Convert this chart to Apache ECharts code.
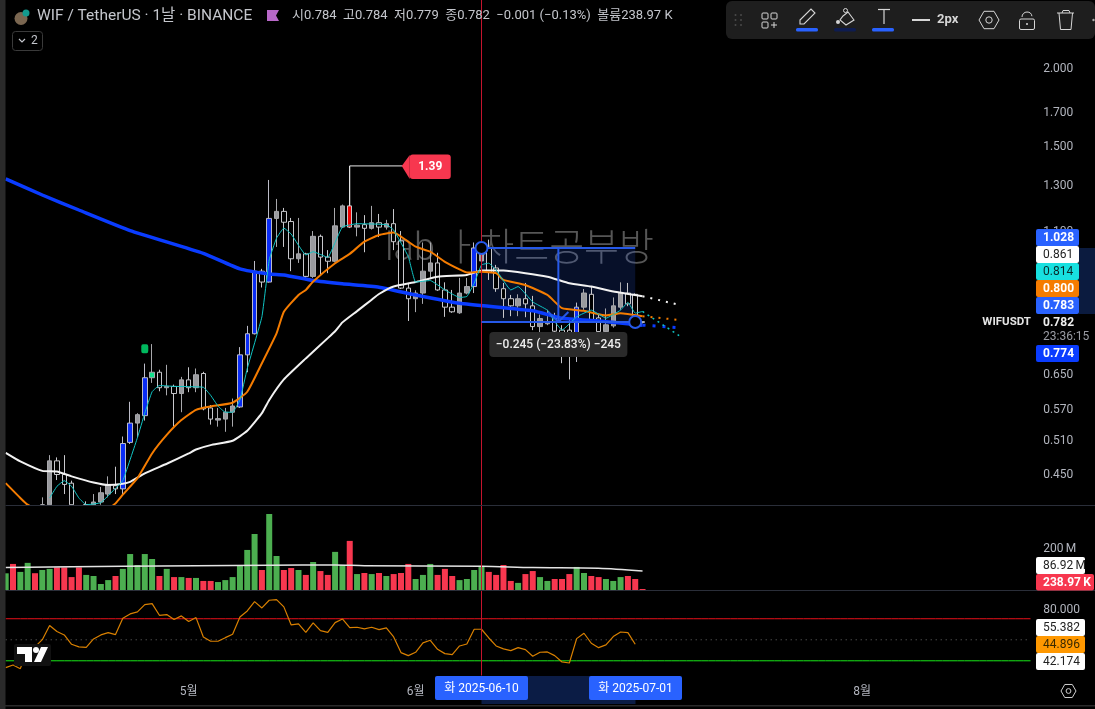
<!DOCTYPE html>
<html><head><meta charset="utf-8">
<style>html,body{margin:0;padding:0;background:#000}#c{width:1095px;height:709px}</style>
<script src="https://cdn.jsdelivr.net/npm/echarts@6/dist/echarts.min.js"></script>
</head><body><div id="c"></div>
<script>
const FONT = "Roboto,'Noto Sans CJK KR',sans-serif";
const firstDay = '2025-04-06';
const dayCount = 141;
const opens  = [.365,.37,.365,.37,.375,.4,.4,.47,.447,.433,.39,.4,.4,.404,.416,.429,.424,.503,.54,.555,.638,.651,.615,.618,.602,.633,.615,.648,.571,.546,.548,.562,.573,.694,.75,.944,.907,1.146,1.176,1.133,.988,1.006,.926,1.073,.994,.979,1.11,1.2,1.11,1.12,1.105,1.128,1.11,1.124,1.055,.887,.853,.871,.944,.973,.881,.827,.81,.871,.892,.98,1.028,.955,.885,.853,.831,.853,.831,.77,.778,.795,.76,.76,.719,.827,.867,.795,.756,.772,.827,.871,.867,.784];
const closes = [.37,.365,.37,.375,.37,.4,.47,.447,.431,.4,.38,.4,.404,.418,.431,.424,.501,.54,.557,.638,.651,.615,.618,.602,.633,.615,.645,.569,.548,.549,.562,.575,.694,.75,.944,.907,1.146,1.176,1.13,.988,1.006,.926,1.073,.994,.979,1.115,1.2,1.11,1.118,1.105,1.128,1.11,1.124,1.052,.887,.853,.871,.944,.973,.881,.827,.813,.871,.892,1.028,1.011,.94,.885,.853,.831,.853,.837,.77,.793,.782,.757,.72,.705,.827,.871,.789,.756,.775,.831,.871,.837,.783,.782];
const highs  = [.375,.375,.375,.38,.38,.411,.48,.476,.48,.437,.395,.405,.416,.427,.444,.46,.514,.584,.56,.672,.722,.657,.669,.622,.64,.663,.66,.652,.577,.571,.571,.591,.714,.772,.98,.952,1.32,1.231,1.191,1.148,1.148,1.01,1.094,1.08,1.02,1.191,1.206,1.39,1.172,1.16,1.2,1.165,1.14,1.186,1.094,.904,.88,1.049,1.049,1.01,.906,.881,.921,.921,1.049,1.06,1.06,.966,.904,.865,.867,.904,.862,.805,.819,.81,.774,.789,.841,.884,.892,.807,.823,.857,.906,.904,.87,.784];
const lows   = [.36,.36,.36,.36,.365,.4,.4,.438,.416,.4,.375,.4,.4,.4,.411,.416,.414,.5,.512,.545,.626,.607,.598,.533,.562,.605,.605,.566,.537,.533,.523,.533,.571,.651,.748,.889,.905,1.032,1.032,.944,.973,.921,.921,.93,.937,.975,1.106,1.106,1.073,1.012,1.1,1.07,1.1,1.02,.884,.786,.812,.837,.921,.878,.798,.81,.807,.867,.871,.975,.914,.875,.795,.8,.8,.797,.76,.733,.774,.75,.673,.634,.676,.819,.782,.745,.74,.767,.819,.83,.78,.779];
const kindsList = ['g','h','g','g','h','g','g','h','h','h','h','h','g','g','g','h','b','b','g','b','t','h','g','h','g','h','g','h','h','g','g','g','b','b','b','h','b','g','h','h','g','h','g','h','h','g','g','r','g','h','g','h','g','h','h','h','g','g','g','h','h','h','g','g','b','g','h','h','h','h','g','h','h','g','g','h','h','h','b','g','h','h','g','g','g','h','h','h'];
const volumes = [77.5,121,84,126,78,93,98,105,105,60,105,70,65,28,46,65,98,167,116,167,144,65,98,60,60,56,56,42,42,37,46,60,112,186,260,93,353,158,93,102,93,70,130,88,70,177,116,228,74,79,74,79,65,74,79,121,51,70,121,70,98,65,46,51,93,112,84,70,116,42,33,74,88,60,42,51,51,74,107,79,65,60,51,42,60,65,51,0.24];
const volumeMA = [[0,105],[16,110],[36,115],[45,116],[49,113],[65,110],[72,104],[81,101],[87,88]];
const rsiValues = [23.5,26,22.5,41.6,43.2,50.1,63.5,57.8,54.6,45.7,43.2,42.8,50.8,54.6,56.8,54.9,70.5,74.6,76.5,83.5,84.4,73.3,74,69.2,72.7,67.3,71.1,52.7,48.6,48.6,52,55.2,71.7,77.4,86.3,80.3,87.6,88.2,81.3,64.1,65.1,57.1,66,58.7,57.1,66.3,69.8,61.6,61.9,60.3,61.9,59.7,61.3,52.7,37.8,34.9,38.1,47,49.5,40.9,36.8,35.9,44.1,46,60,60,51.7,44.1,41.3,39.7,42.5,40.6,34.3,38.1,38.4,34.9,28.9,27.9,51.1,56.2,46.7,42.5,45.1,53,57.4,56.8,45.7];
const rsiBands = [70,50,30];
const maWhite = [[0,.484],[2,.469],[5,.453],[7,.452],[9,.444],[12,.434],[14,.43],[16,.432],[17,.435],[19,.449],[22,.465],[25,.483],[26,.49],[28,.498],[31,.506],[33,.525],[35,.56],[36,.588],[38,.634],[41,.685],[44,.738],[45,.757],[46,.782],[48,.815],[50,.85],[51,.868],[53,.892],[56,.907],[59,.925],[63,.931],[65,.946],[68,.946],[74,.925],[77,.903],[80,.892],[83,.876],[87,.861]];
const maWhiteNext = [[87,.861],[92,.834]];
const maOrange = [[0,.433],[2,.41],[3,.4],[6,.385],[10,.38],[14,.395],[15,.402],[16,.415],[18,.441],[20,.483],[22,.517],[24,.546],[26,.567],[28,.574],[31,.582],[33,.606],[35,.673],[37,.751],[38,.813],[40,.865],[41,.881],[42,.909],[45,.972],[47,1.006],[49,1.052],[51,1.078],[53,1.088],[54,1.072],[56,1.033],[58,1.014],[60,.977],[62,.95],[63,.939],[65,.942],[67,.937],[68,.914],[71,.897],[74,.865],[76,.824],[79,.816],[82,.802],[84,.809],[87,.8]];
const maOrangeNext = [[87,.8],[92,.789]];
const maBlue = [[0,1.325],[5,1.249],[10,1.182],[17,1.096],[27,1.008],[32,.952],[36,.934],[38,.931],[42,.912],[46,.901],[51,.89],[56,.865],[62,.839],[72,.816],[76,.794],[81,.786],[87,.774]];
const maBlueNext = [[87,.774],[92,.767]];
const maTeal = [[6,.41],[7,.428],[8,.437],[9,.428],[10,.41],[11,.4],[13,.403],[15,.425],[16,.437],[18,.512],[19,.56],[20,.606],[21,.62],[23,.618],[27,.616],[28,.598],[29,.575],[30,.562],[31,.562],[32,.588],[33,.66],[35,.798],[36,.984],[37,1.066],[38,1.106],[39,1.082],[41,1.002],[42,1.014],[44,.993],[45,1.049],[46,1.111],[48,1.124],[52,1.12],[53,1.098],[55,.996],[56,.907],[58,.912],[60,.881],[62,.857],[63,.86],[64,.903],[65,.966],[66,.972],[67,.948],[69,.881],[70,.892],[72,.843],[74,.818],[75,.784],[76,.76],[78,.798],[80,.818],[82,.794],[84,.818],[85,.842],[86,.809],[87,.814]];
const maTealNext = [[87,.814],[92,.745]];
const signalPoints = [[19,.71]];
const highNote = [47,1.39];
const measure = {fromDay:65,toDay:86,top:1.028,bottom:.783};
const measureText = '−0.245 (−23.83%) −245';
const priceTicks = [.45,.51,.57,.65,1.1,1.3,1.5,1.7,2];
const volumeTicks = [200];
const rsiTicks = [80];
const headerTitle = 'WIF / TetherUS · 1날 · BINANCE';
const headerOHLC = '시0.784  고0.784  저0.779  종0.782  −0.001 (−0.13%)  볼륨238.97 K';

const start = new Date(firstDay+'T00:00:00Z');
const categories = Array.from({length:dayCount},(_,i)=>new Date(start.getTime()+i*864e5).toISOString().slice(0,10));
const crossDay = '2025-06-10';

const kindStyle = {
  h:{fill:'#000000',line:'#c8c8cc'},
  g:{fill:'#999a9e',line:'#a8a8ac'},
  b:{fill:'#0a2cf5',line:'#bcbcc8'},
  r:{fill:'#f00000',line:'#c8c8cc'},
  t:{fill:'#12e08c',line:'#a8a8ac'}
};
const candleData = opens.map((o,i)=>{
  const s = kindStyle[kindsList[i]];
  return {value:[o,closes[i],lows[i],highs[i]],itemStyle:{color:s.fill,color0:s.fill,borderColor:s.line,borderColor0:s.line,borderColorDoji:s.line,borderWidth:1}};
});
const volumeData = volumes.map((v,i)=>({value:v,itemStyle:{color:closes[i]>=opens[i]?'#4caf50':'#f7374f'}}));

const crossLine = {silent:true,symbol:'none',animation:false,label:{show:false},lineStyle:{color:'#c5142d',width:1,type:'solid'},data:[{xAxis:crossDay}]};
const baseLine = (name,data,color,width,z,extra)=>Object.assign({name,type:'line',xAxisIndex:0,yAxisIndex:0,data,symbol:'none',smooth:0.15,z,animation:false,lineStyle:{color,width},silent:true},extra||{});
const dots = (name,data,color,width,dash)=>baseLine(name,data,color,width,3,{smooth:false,lineStyle:{color,width,type:dash}});
const bandLine = (name,value,color,type)=>({name,type:'line',xAxisIndex:2,yAxisIndex:2,data:categories.map(()=>value),z:2,silent:true,animation:false,symbol:'none',lineStyle:{color,width:1,type}});

const BLUE = '#2659e8';
function measureFill(params,api){
  const a = api.coord([measure.fromDay,measure.top]), b = api.coord([measure.toDay,measure.bottom]);
  return {type:'rect',shape:{x:a[0],y:a[1],width:b[0]-a[0],height:b[1]-a[1]},style:{fill:'rgba(41,98,255,0.16)'}};
}
function measureLines(params,api){
  const a = api.coord([measure.fromDay,measure.top]), b = api.coord([measure.toDay,measure.bottom]);
  const mx = (a[0]+b[0])/2, lw = {stroke:BLUE,lineWidth:2,fill:null};
  const line=(x1,y1,x2,y2)=>({type:'line',shape:{x1,y1,x2,y2},style:lw});
  return {type:'group',children:[
    line(a[0],a[1],b[0],a[1]), line(a[0],b[1],b[0],b[1]), line(mx,a[1],mx,b[1]),
    line(mx-10,b[1]-10,mx,b[1]), line(mx+10,b[1]-10,mx,b[1]),
    {type:'circle',shape:{cx:a[0],cy:a[1],r:6},style:{stroke:BLUE,lineWidth:2,fill:'#000'}},
    {type:'circle',shape:{cx:b[0],cy:b[1],r:6},style:{stroke:BLUE,lineWidth:2,fill:'#000'}},
    {type:'rect',shape:{x:mx-69,y:b[1]+10,width:138,height:25,r:4},style:{fill:'#2a2a2a'}},
    {type:'text',style:{x:mx,y:b[1]+22.5,text:measureText,fill:'#eeeeee',font:'500 12px '+FONT,align:'center',verticalAlign:'middle'}}
  ]};
}
function noteItem(params,api){
  const p = api.coord(highNote);
  const x=p[0], y=p[1], tx=x+60;
  return {type:'group',children:[
    {type:'polyline',shape:{points:[[x,y+40],[x,y],[x+53,y]]},style:{stroke:'#e8e8e8',lineWidth:1,fill:null}},
    {type:'polygon',shape:{points:[[x+52,y],[tx,y-11],[tx,y+13]]},style:{fill:'#f7374f'}},
    {type:'rect',shape:{x:tx,y:y-11.5,width:41,height:24.5,r:3},style:{fill:'#f7374f'}},
    {type:'text',style:{x:tx+20.5,y:y+1,text:String(highNote[1]),fill:'#fff',font:'bold 12px '+FONT,align:'center',verticalAlign:'middle'}}
  ]};
}

const series = [
  {name:'measureFill',type:'custom',xAxisIndex:0,yAxisIndex:0,z:1,silent:true,animation:false,renderItem:measureFill,data:[[measure.fromDay,measure.top]]},
  {name:'candles',type:'candlestick',xAxisIndex:0,yAxisIndex:0,z:2,barWidth:5,animation:false,silent:true,data:candleData,markLine:crossLine},
  baseLine('ma200',maBlue,'#0a3cff',3.5,3),
  baseLine('ma50',maWhite,'#f2f2f2',2,3),
  baseLine('ma20',maOrange,'#f57c00',2,3),
  baseLine('ma5',maTeal,'#10c4c4',1,3,{smooth:0.1}),
  dots('ma200next',maBlueNext,'#0a3cff',3,[3,7]),
  dots('ma50next',maWhiteNext,'#f2f2f2',2,[2,6]),
  dots('ma20next',maOrangeNext,'#f57c00',2,[2,6]),
  dots('ma5next',maTealNext,'#10c4c4',1.5,[2,4]),
  {name:'signal',type:'scatter',xAxisIndex:0,yAxisIndex:0,z:4,silent:true,animation:false,data:signalPoints,symbol:'roundRect',symbolSize:[7,9],itemStyle:{color:'#00e676'}},
  {name:'measureLines',type:'custom',xAxisIndex:0,yAxisIndex:0,z:6,silent:true,animation:false,renderItem:measureLines,data:[[measure.fromDay,measure.top]]},
  {name:'note',type:'custom',xAxisIndex:0,yAxisIndex:0,z:6,silent:true,animation:false,renderItem:noteItem,data:[highNote]},
  {name:'volume',type:'bar',xAxisIndex:1,yAxisIndex:1,z:2,barWidth:6,barMinHeight:1,silent:true,animation:false,data:volumeData,markLine:crossLine},
  {name:'volumeMA',type:'line',xAxisIndex:1,yAxisIndex:1,z:3,symbol:'none',smooth:0.3,silent:true,animation:false,data:volumeMA,lineStyle:{color:'#e4e4e4',width:1.5}},
  bandLine('rsiHigh',rsiBands[0],'#e8101a','solid'),
  bandLine('rsiMid',rsiBands[1],'#6a6a6a',[1,4]),
  bandLine('rsiLow',rsiBands[2],'#18e818','solid'),
  {name:'rsi',type:'line',xAxisIndex:2,yAxisIndex:2,z:3,symbol:'none',silent:true,animation:false,data:rsiValues,lineStyle:{color:'#d98000',width:1.2},markLine:crossLine}
];

const monthLabel = v => (+v.slice(5,7))+'월';
const xBase = {type:'category',data:categories,boundaryGap:true,axisLine:{show:false},axisTick:{show:false},splitLine:{show:false},axisLabel:{show:false}};
const yLabel = (vals,fmt)=>({show:true,customValues:vals,formatter:v=>'{a|'+fmt(v)+'}',margin:9,hideOverlap:false,
  rich:{a:{color:'#b2b5be',fontSize:12,fontFamily:FONT,padding:[4,0,0,0]}}});
const yBase = {position:'right',axisLine:{show:false},axisTick:{show:false},splitLine:{show:false}};

// graphic helpers
const G=[];
const rect=(x,y,w,h,fill,r,z)=>G.push({type:'rect',z:z||50,silent:true,shape:{x,y,width:w,height:h,r:r||0},style:{fill}});
const text=(x,y,t,fill,font,align,z)=>G.push({type:'text',z:z||51,silent:true,style:{x,y,text:t,fill,font:font||('12px '+FONT),textAlign:align||'left',textVerticalAlign:'middle',verticalAlign:'middle'}});
const poly=(pts,stroke,lw,fill,closed,z)=>G.push({type:closed?'polygon':'polyline',z:z||52,silent:true,shape:{points:pts},style:{stroke:stroke||null,lineWidth:lw||1,fill:fill||null}});
const circ=(cx,cy,r,stroke,lw,fill,z)=>G.push({type:'circle',z:z||52,silent:true,shape:{cx,cy,r},style:{stroke:stroke||null,lineWidth:lw||1,fill:fill||null}});
const hexa=(cx,cy,r,col,lw)=>{poly([[cx-r,cy],[cx-r/2,cy-r*.87],[cx+r/2,cy-r*.87],[cx+r,cy],[cx+r/2,cy+r*.87],[cx-r/2,cy+r*.87]],col,lw,null,true);circ(cx,cy,r*.32,col,lw);};

// watermark (behind the marks)
G.push({type:'text',z:0,silent:true,style:{x:385,y:250,text:'lab ㅏ차트공부방',fill:'#565656',font:"300 38px "+FONT,textVerticalAlign:'middle',verticalAlign:'middle'}});
// frame
rect(0,0,5.5,709,'#2a2a2a',0,60);
rect(5.5,505,1089.5,1,'#2a2e39',0,40);
rect(5.5,590,1089.5,1,'#2a2e39',0,40);
rect(0,705,1095,1.5,'#2a2a2a',0,40);
// header
circ(21,18.5,6.5,null,1,'#7a6650');
circ(26,13,3.5,null,1,'#129a8e');
text(37,16,headerTitle,'#c4c6cc','15.5px '+FONT);
poly([[267,10],[279,10],[276,15.5],[279,21],[267,21]],null,1,'#b868c8',true);
text(292,16,headerOHLC,'#c4c6cc','13px '+FONT);
rect(12.5,31.5,30,19,'#000',3);
G.push({type:'rect',z:51,silent:true,shape:{x:12.5,y:31.5,width:30,height:19,r:3},style:{fill:null,stroke:'#3a3a3a',lineWidth:1}});
poly([[19,39],[22,42],[25,39]],'#c4c6cc',1.2);
text(31,41,'2','#c4c6cc','12px '+FONT);
// toolbar
rect(726,1,369,38,'#1e1e1e',6);
[735.5,741].forEach(x=>[15,20,25].forEach(y=>circ(x,y,1,null,1,'#4a4a4a')));
[[762,13],[771,13],[762,22]].forEach(p=>G.push({type:'rect',z:52,silent:true,shape:{x:p[0],y:p[1],width:6,height:6,r:1},style:{fill:null,stroke:'#d6d6d6',lineWidth:1}}));
poly([[774,22],[774,28]],'#d6d6d6',1);poly([[771,25],[777,25]],'#d6d6d6',1);
poly([[800,20],[811,9],[815,13],[804,24],[800,24]],'#d6d6d6',1.1,null,true);
rect(796,28,22,3.5,'#2962ff',1.5);
poly([[843,16],[848,12],[854,20],[846,25],[840,20]],'#d6d6d6',1.1,null,true);
circ(845.5,10.5,2,'#d6d6d6',1);circ(838,22,2,null,1,'#d6d6d6');
rect(834,28,22,3.5,'#0e1c50',1.5);
poly([[878,9.5],[890,9.5]],'#d6d6d6',1.2);poly([[884,9.5],[884,24]],'#d6d6d6',1.2);
rect(872,28,22,3.5,'#2962ff',1.5);
rect(912,19,18,2,'#d6d6d6');
text(937,20,'2px','#d6d6d6','bold 13px '+FONT);
hexa(989,20,10,'#d6d6d6',1);
G.push({type:'rect',z:52,silent:true,shape:{x:1019.5,y:19,width:15,height:10.5,r:1.5},style:{fill:null,stroke:'#d6d6d6',lineWidth:1}});
G.push({type:'arc',z:52,silent:true,shape:{cx:1027,cy:17,r:5,startAngle:Math.PI,endAngle:Math.PI*1.95},style:{stroke:'#d6d6d6',lineWidth:1,fill:null}});
circ(1027,24,1,null,1,'#d6d6d6');
poly([[1057,13],[1074,13]],'#d6d6d6',1);poly([[1059,13],[1060.5,29.5],[1071,29.5],[1072.5,13]],'#d6d6d6',1);poly([[1062,13],[1063,10.5],[1069,10.5],[1070,13]],'#d6d6d6',1);
circ(1093.5,20,1.2,null,1,'#aaa');
// range highlight on axes
rect(1079,248,16,66,'#0b1b3f',0,45);
rect(481.5,676,154,28,'#0b1c45',0,45);
// date chips
rect(435,676,93,24,'#2962ff',2);text(481.5,688.5,'화 2025-06-10','#fff','12px '+FONT,'center');
rect(589,676,93,24,'#2962ff',2);text(635.5,688.5,'화 2025-07-01','#fff','12px '+FONT,'center');
// price tags
const tag=(y,h,x2,bg,fg,t,bold)=>{rect(1036,y,x2-1036,h,bg,2);text(1043,y+h/2+.5,t,fg,(bold?'bold ':'')+'12px '+FONT);};
tag(229,17,1079,'#2962ff','#fff','1.028',true);
tag(246,17,1079,'#ffffff','#222','0.861');
tag(263,17,1079,'#18e0e0','#0a2a2a','0.814');
tag(280,17,1079,'#f57c00','#fff','0.800',true);
tag(297,17,1079,'#2962ff','#fff','0.783',true);
text(1031,322.5,'WIFUSDT','#e4e4e4','bold 11.5px '+FONT,'right');
text(1043,322.5,'0.782','#eeeeee','bold 12px '+FONT);
text(1043,337,'23:36:15','#9a9ca4','12px '+FONT);
tag(345,17,1079,'#0a3cff','#fff','0.774',true);
tag(557,17,1085,'#ffffff','#222','86.92\u2009M');
tag(574,16.5,1094,'#f7374f','#fff','238.97\u2009K',true);
tag(619,17,1085,'#ffffff','#222','55.382');
tag(636,17,1085,'#ff9800','#3a2a00','44.896');
tag(653,17,1085,'#ffffff','#222','42.174');
hexa(1068.5,691,7.5,'#d0d0d0',1);
// TradingView mark
rect(14,644,37,22,'#111111',2,55);
poly([[17,647],[32,647],[32,662],[25,662],[25,654],[17,654]],null,1,'#ffffff',true,56);
circ(36,650,3,null,1,'#ffffff',56);
poly([[41,647],[48,647],[41,662],[34,662]],null,1,'#ffffff',true,56);

const option = {
  backgroundColor:'#000000',
  animation:false,
  textStyle:{fontFamily:FONT},
  grid:[
    {left:2.04,width:1032.12,top:0,height:505},
    {left:2.04,width:1032.12,top:506,height:84},
    {left:2.04,width:1032.12,top:591,height:84.5}
  ],
  xAxis:[
    Object.assign({},xBase,{gridIndex:0}),
    Object.assign({},xBase,{gridIndex:1}),
    Object.assign({},xBase,{gridIndex:2,axisLabel:{show:true,color:'#b2b5be',fontSize:12,fontFamily:FONT,margin:10,
      interval:(i,v)=>v.slice(8)==='01',formatter:monthLabel,hideOverlap:false}})
  ],
  yAxis:[
    Object.assign({},yBase,{gridIndex:0,type:'log',logBase:Math.E,min:0.3996,max:2.558,axisLabel:yLabel(priceTicks,v=>(+v).toFixed(3))}),
    Object.assign({},yBase,{gridIndex:1,type:'value',min:0,max:390,axisLabel:yLabel(volumeTicks,v=>v+'\u2009M')}),
    Object.assign({},yBase,{gridIndex:2,type:'value',min:16,max:96.4,axisLabel:yLabel(rsiTicks,v=>(+v).toFixed(3))})
  ],
  series,
  graphic:{elements:G}
};
const chart = echarts.init(document.getElementById('c'),null,{renderer:'canvas',width:1095,height:709});
chart.setOption(option);
</script></body></html>
